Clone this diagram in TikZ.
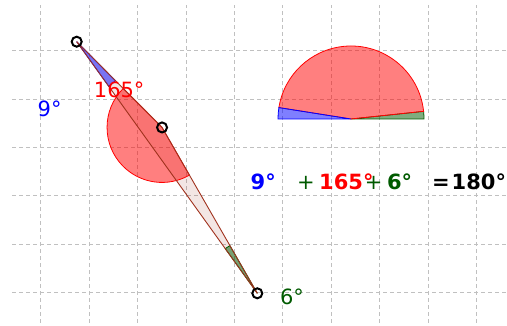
\documentclass[tikz,border=0pt]{standalone}
\usepackage{fontspec}
\setmainfont{DejaVu Sans}
\definecolor{edgec}{RGB}{160,50,30}
\definecolor{dgreen}{RGB}{0,90,0}
\definecolor{gridc}{RGB}{192,192,192}
\tikzset{
  gridline/.style={draw=gridc, line width=0.8pt, dash pattern=on 4pt off 3pt},
  edge/.style={draw=edgec, line width=0.9pt},
  ring/.style={draw=black, line width=2pt},
  lbl/.style={anchor=base west, inner sep=0pt, font=\fontsize{21}{25}\selectfont},
  blbl/.style={anchor=base west, inner sep=0pt, font=\fontsize{21}{25}\selectfont\bfseries},
  redsec/.style={fill=red, fill opacity=0.5, draw=red, line width=0.8pt},
  bluesec/.style={fill=blue, fill opacity=0.5, draw=blue, line width=0.8pt},
  greensec/.style={fill=dgreen, fill opacity=0.5, draw=dgreen, line width=0.8pt},
}
\begin{document}
\begin{tikzpicture}[x=1pt,y=1pt]
\useasboundingbox (0,0) rectangle (507,326);
% grid
\foreach \x in {40.5,89,137.4,185.9,234.3,282.8,331.2,379.7,428.1,476.6}
  \draw[gridline] (\x,3) -- (\x,321);
\foreach \y in {275.3,226.9,178.5,130.1,81.7,33.3}
  \draw[gridline] (12,\y) -- (507,\y);
% triangle points
\coordinate (A) at (76.7,284.3);
\coordinate (B) at (257.3,32.7);
\coordinate (C) at (162.05,198.56);
% triangle fill
\fill[edgec, opacity=0.12] (A) -- (C) -- (B) -- cycle;
% angle sectors in the triangle
\draw[bluesec] (A) -- ++(-54.33:55) arc[start angle=-54.33, end angle=-45.13, radius=55] -- cycle;
\draw[redsec] (C) -- ++(134.87:55) arc[start angle=134.87, end angle=299.87, radius=55] -- cycle;
\draw[greensec] (B) -- ++(119.87:55) arc[start angle=119.87, end angle=125.67, radius=55] -- cycle;
% triangle edges
\draw[edge] (A) -- (C);
\draw[edge] (C) -- (B);
\draw[edge] (A) -- (B);
% points
\draw[ring] (A) circle[radius=5];
\draw[ring] (B) circle[radius=5];
\draw[ring] (C) circle[radius=5];
% semicircle
\coordinate (O) at (351,207);
\draw[greensec] (O) -- ++(0:73) arc[start angle=0, end angle=6, radius=73] -- cycle;
\draw[redsec] (O) -- ++(6:73) arc[start angle=6, end angle=171, radius=73] -- cycle;
\draw[bluesec] (O) -- ++(171:73) arc[start angle=171, end angle=180, radius=73] -- cycle;
% labels
\node[lbl, text=blue] (la) at (37.5,209.5) {9°};
\node[lbl, text=red] (lc) at (93.7,228.7) {165°};
\node[lbl, text=dgreen] (lb) at (279.8,21.3) {6°};
% sum
\node[blbl, text=blue] (s1) at (250.5,136.7) {9°};
\node[lbl, text=dgreen] (p1) at (297,136.7) {+};
\node[blbl, text=red] (s2) at (319,136.7) {165°};
\node[lbl, text=dgreen] (p2) at (364.7,136.7) {+};
\node[blbl, text=dgreen] (s3) at (386.8,136.7) {6°};
\node[blbl, text=black] (eq) at (432,136.7) {=};
\node[blbl, text=black] (s4) at (451.5,136.7) {180°};
\end{tikzpicture}
\end{document}
